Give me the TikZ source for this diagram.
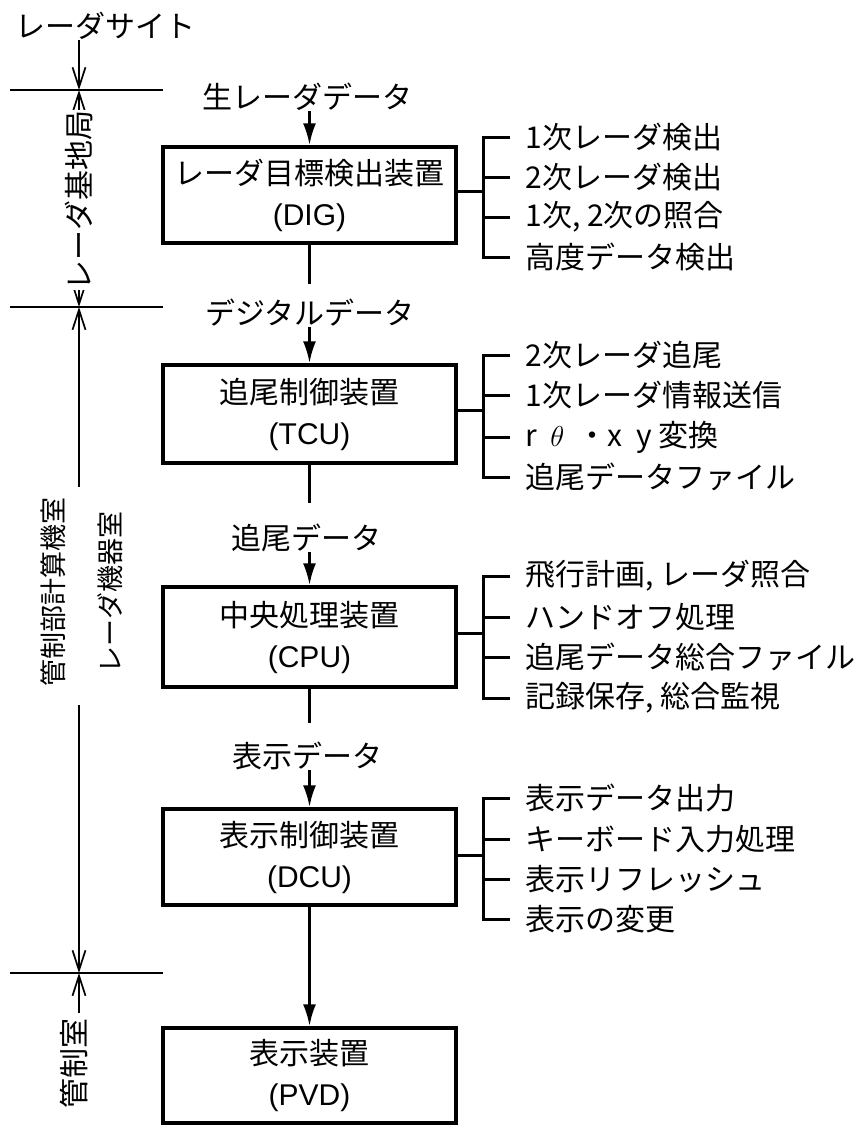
\documentclass[tikz,border=0pt]{standalone}
\usepackage{fontspec}
\setmainfont{Noto Sans CJK JP}
\newfontfamily\latf{Liberation Sans}
\usetikzlibrary{arrows.meta}
\begin{document}
\begin{tikzpicture}[x=0.5pt,y=-0.5pt,
  box/.style={draw, line width=1.7pt, minimum width=146.5pt, minimum height=48pt,
    align=center, inner sep=0pt, font=\fontsize{15}{20.5}\selectfont},
  lbl/.style={inner sep=0pt, font=\fontsize{15}{18}\selectfont},
  item/.style={anchor=west, inner sep=0pt, font=\fontsize{15}{18}\selectfont},
  flow/.style={line width=1.5pt, -{Latex[length=11pt,width=6.5pt]}},
  flowline/.style={line width=1.5pt},
  brk/.style={line width=1.5pt},
  dim/.style={line width=0.85pt},
  barb/.tip={Straight Barb[length=10pt,width=6.5pt]},
  vlbl/.style={rotate=90, inner sep=0pt, font=\fontsize{15}{18}\selectfont},
  vlbls/.style={rotate=90, inner sep=0pt, font=\fontsize{13.5}{16}\selectfont}
]
\useasboundingbox (0,0) rectangle (868,1126);

% ---- main boxes ----
\node[box] (dig) at (309.5,195) {レーダ目標検出装置\\{\latf (DIG)}};
\node[box, minimum height=49pt] (tcu) at (309.5,414) {追尾制御装置\\{\latf (TCU)}};
\node[box, minimum height=50pt] (cpu) at (309.5,637) {中央処理装置\\{\latf (CPU)}};
\node[box] (dcu) at (309.5,857) {表示制御装置\\{\latf (DCU)}};
\node[box, minimum height=47.5pt] (pvd) at (309.5,1075.5) {表示装置\\{\latf (PVD)}};

% ---- data labels ----
\node[lbl] (raw) at (307,97) {生レーダデータ};
\node[lbl] (digi) at (310,313) {デジタルデータ};
\node[lbl] (trk) at (306,538) {追尾データ};
\node[lbl] (disp) at (307,756) {表示データ};

\coordinate (digout) at (309.5,284);
\coordinate (tcuout) at (309.5,503);
\coordinate (cpuout) at (309.5,723);

\draw[flow] (raw.south -| dig.north) -- (dig.north);
\draw[flowline] (dig.south) -- (digout);
\draw[flow] (digi.south -| tcu.north) -- (tcu.north);
\draw[flowline] (tcu.south) -- (tcuout);
\draw[flow] (trk.south -| cpu.north) -- (cpu.north);
\draw[flowline] (cpu.south) -- (cpuout);
\draw[flow] (disp.south -| dcu.north) -- (dcu.north);
\draw[flow] (dcu.south) -- (pvd.north);

% ---- brackets and items ----
% DIG
\coordinate (digbr) at (483,191);
\draw[brk] ([yshift=2pt]dig.east) -- (digbr);
\draw[brk] (510,137) -- (483,137) -- (483,257) -- (510,257);
\draw[brk] (483,177) -- (510,177);
\draw[brk] (483,217) -- (510,217);
\node[item] (dig1) at (525,137) {1次レーダ検出};
\node[item] (dig2) at (525,177) {2次レーダ検出};
\node[item] (dig3) at (525,217) {1次, 2次の照合};
\node[item] (dig4) at (525,257) {高度データ検出};
% TCU
\coordinate (tcubr) at (483,410);
\draw[brk] ([yshift=2pt]tcu.east) -- (tcubr);
\draw[brk] (510,355) -- (483,355) -- (483,477) -- (510,477);
\draw[brk] (483,395) -- (510,395);
\draw[brk] (483,437) -- (510,437);
\node[item] (tcu1) at (525,355) {2次レーダ追尾};
\node[item] (tcu2) at (525,395) {1次レーダ情報送信};
\node[item] (tcu3) at (525,437) {r\ \ $\theta$\ \ ・x\ \ y\ 変換};
\node[item] (tcu4) at (525,477) {追尾データファイル};
% CPU
\coordinate (cpubr) at (483,633);
\draw[brk] ([yshift=2pt]cpu.east) -- (cpubr);
\draw[brk] (510,576) -- (483,576) -- (483,698) -- (510,698);
\draw[brk] (483,617) -- (510,617);
\draw[brk] (483,657) -- (510,657);
\node[item] (cpu1) at (525,576) {飛行計画, レーダ照合};
\node[item] (cpu2) at (525,617) {ハンドオフ処理};
\node[item] (cpu3) at (525,657) {追尾データ総合ファイル};
\node[item] (cpu4) at (525,698) {記録保存, 総合監視};
% DCU
\coordinate (dcubr) at (483,855);
\draw[brk] ([yshift=1pt]dcu.east) -- (dcubr);
\draw[brk] (510,798) -- (483,798) -- (483,919) -- (510,919);
\draw[brk] (483,839) -- (510,839);
\draw[brk] (483,879) -- (510,879);
\node[item] (dcu1) at (525,798) {表示データ出力};
\node[item] (dcu2) at (525,839) {キーボード入力処理};
\node[item] (dcu3) at (525,879) {表示リフレッシュ};
\node[item] (dcu4) at (525,919) {表示の変更};

% ---- left: sites and rooms ----
\node[lbl, anchor=west] (site) at (15,26) {レーダサイト};
\coordinate (h1) at (79,90);
\coordinate (h2) at (79,307);
\coordinate (h3) at (79,973);
\draw[dim] (10,90) -- (163,90);
\draw[dim] (10,307) -- (163,307);
\draw[dim] (10,973) -- (163,973);

\draw[dim, -{barb}] (site.south -| h1) -- (h1);
\draw[dim, {barb}-{barb}] (h1) -- (h2);
\node[vlbl, fill=white] (kichi) at (79,200) {レーダ基地局};

\coordinate (g1) at (79,487);
\coordinate (g2) at (79,705);
\draw[dim, {barb}-] (h2) -- (g1);
\draw[dim, -{barb}] (g2) -- (h3);
\node[vlbls] (keisan) at (53,592) {管制部計算機室};
\node[vlbls] (kiki) at (110,592) {レーダ機器室};

\coordinate (g3) at (79,1013);
\draw[dim, {barb}-] (h3) -- (g3);
\node[vlbl] (kansei) at (74,1063) {管制室};
\end{tikzpicture}
\end{document}
